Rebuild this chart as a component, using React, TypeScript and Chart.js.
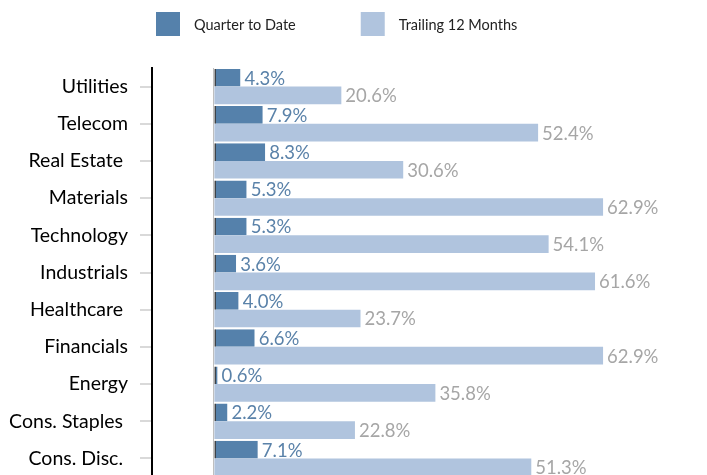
import React, { useEffect, useRef } from "react";
import { Chart, registerables } from "chart.js";

Chart.register(...registerables);

const categories = [
  "Utilities",
  "Telecom",
  "Real Estate ",
  "Materials",
  "Technology",
  "Industrials",
  "Healthcare ",
  "Financials",
  "Energy",
  "Cons. Staples ",
  "Cons. Disc. ",
];
const quarterToDate = [4.3, 7.9, 8.3, 5.3, 5.3, 3.6, 4.0, 6.6, 0.6, 2.2, 7.1];
const trailing12Months = [20.6, 52.4, 30.6, 62.9, 54.1, 61.6, 23.7, 62.9, 35.8, 22.8, 51.3];
const seriesNames = ["Quarter to Date", "Trailing 12 Months"];

const FONT = "Lato, 'Open Sans', sans-serif";
const QTD_COLOR = "#5581ab";
const TTM_COLOR = "#b0c4de";
const QTD_LABEL = "#5a82a9";
const TTM_LABEL = "#a6a6a6";

const valueLabels = {
  id: "valueLabels",
  afterDatasetsDraw(chart: any) {
    const ctx = chart.ctx;
    ctx.save();
    ctx.font = `18.5px ${FONT}`;
    ctx.textAlign = "left";
    ctx.textBaseline = "middle";
    chart.data.datasets.forEach((ds: any, di: number) => {
      const meta = chart.getDatasetMeta(di);
      ctx.fillStyle = di === 0 ? QTD_LABEL : TTM_LABEL;
      meta.data.forEach((el: any, i: number) => {
        const v = ds.data[i] as number;
        ctx.fillText(`${v.toFixed(1)}%`, el.x + 4, el.y + 1);
      });
    });
    ctx.restore();
  },
};

const customLegend = {
  id: "customLegend",
  afterDraw(chart: any) {
    const ctx = chart.ctx;
    ctx.save();
    ctx.font = `14.5px ${FONT}`;
    ctx.textAlign = "left";
    ctx.textBaseline = "middle";
    let x = 156;
    const box = 24;
    const top = 12;
    chart.data.datasets.forEach((ds: any) => {
      ctx.fillStyle = ds.backgroundColor;
      ctx.fillRect(x, top, box, box);
      ctx.fillStyle = "#222";
      const tx = x + box + 14;
      ctx.fillText(ds.label, tx, top + box / 2 + 1);
      x = tx + ctx.measureText(ds.label).width + 65;
    });
    ctx.restore();
  },
};

export default function App() {
  const ref = useRef<HTMLCanvasElement | null>(null);
  useEffect(() => {
    if (!ref.current) return;
    const chart = new Chart(ref.current, {
      type: "bar",
      data: {
        labels: categories,
        datasets: [
          {
            label: seriesNames[0],
            data: quarterToDate,
            backgroundColor: QTD_COLOR,
            borderColor: "#1f1f1f",
            borderWidth: { left: 1.5, top: 0, right: 0, bottom: 0 },
            borderSkipped: false,
            barPercentage: 1,
            categoryPercentage: 0.95,
          },
          {
            label: seriesNames[1],
            data: trailing12Months,
            backgroundColor: TTM_COLOR,
            borderWidth: 0,
            barPercentage: 1,
            categoryPercentage: 0.95,
          },
        ],
      },
      options: {
        indexAxis: "y",
        responsive: false,
        animation: false,
        devicePixelRatio: 1,
        layout: { padding: { top: 68, right: 60, bottom: 0, left: 0 } },
        plugins: {
          legend: { display: false },
          tooltip: { enabled: false },
          title: { display: false },
        },
        scales: {
          x: {
            min: -10,
            max: 70,
            ticks: { display: false, stepSize: 10 },
            border: { display: false },
            grid: {
              drawTicks: false,
              drawOnChartArea: true,
              lineWidth: 1,
              color: (c: any) => (c.tick && c.tick.value === 0 ? "#bfbfbf" : "rgba(0,0,0,0)"),
            },
            afterFit: (s: any) => {
              s.height = 0;
              s.paddingLeft = 0;
              s.paddingRight = 0;
              s.paddingTop = 0;
              s.paddingBottom = 0;
            },
          },
          y: {
            ticks: {
              color: "#000",
              font: { family: FONT, size: 19.5 },
              padding: 12,
            },
            grid: {
              offset: false,
              drawOnChartArea: false,
              drawTicks: true,
              tickLength: 12,
              lineWidth: 2,
              color: "#d9d9d9",
            },
            border: { display: true, color: "#000", width: 2 },
            afterFit: (s: any) => {
              s.width = 152;
              s.paddingTop = 0;
              s.paddingBottom = 0;
              s.paddingLeft = 0;
              s.paddingRight = 0;
            },
          },
        },
      },
      plugins: [valueLabels, customLegend],
    });
    return () => chart.destroy();
  }, []);
  return (
    <div
      style={{
        position: "fixed",
        left: 0,
        top: 0,
        width: 707,
        height: 475,
        overflow: "hidden",
        background: "#fff",
      }}
    >
      <canvas ref={ref} width={707} height={477} style={{ display: "block" }} />
    </div>
  );
}
